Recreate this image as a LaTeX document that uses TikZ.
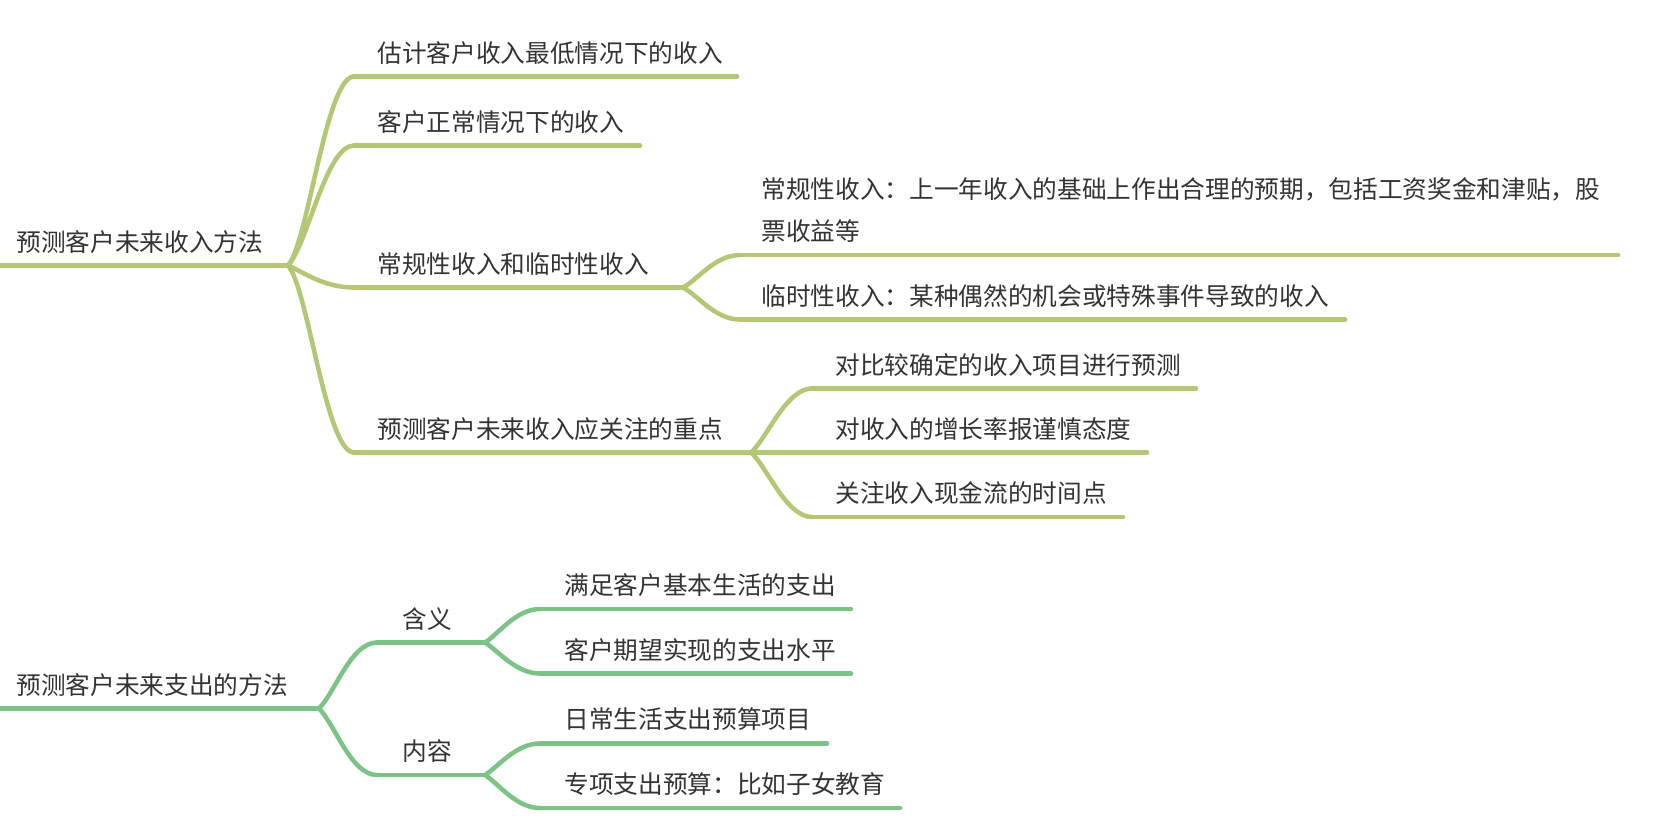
\documentclass[tikz,border=0pt]{standalone}
\usepackage{fontspec}
\setmainfont{Noto Sans CJK SC}
\definecolor{incomegreen}{RGB}{180,199,117}
\definecolor{spendgreen}{RGB}{124,195,135}
\definecolor{topictext}{RGB}{51,51,51}
\tikzset{every picture/.style={line width=0.75pt}}
\tikzset{
  topic/.style={anchor=west, inner sep=0pt, text=topictext, align=left,
    font=\fontsize{18.5pt}{30.8pt}\selectfont},
  income/.style={draw=incomegreen, line width=3.4pt, line cap=round},
  spend/.style={draw=spendgreen, line width=3.4pt, line cap=round},
}

\begin{document}
\begin{tikzpicture}[x=0.75pt,y=0.75pt,yscale=-1,xscale=1]
\useasboundingbox (0,0) rectangle (1658,839);

% Text Node
\node[topic] (inc) at (16,242) {预测客户未来收入方法};
\node[topic] (low) at (377,53) {估计客户收入最低情况下的收入};
\node[topic] (normal) at (377,122) {客户正常情况下的收入};
\node[topic] (kinds) at (377,264) {常规性收入和临时性收入};
\node[topic] (focus) at (377,429) {预测客户未来收入应关注的重点};
\node[topic] (regular) at (761,210) {常规性收入：上一年收入的基础上作出合理的预期，包括工资奖金和津贴，股\\票收益等};
\node[topic] (temp) at (761,296) {临时性收入：某种偶然的机会或特殊事件导致的收入};
\node[topic] (sure) at (835,365) {对比较确定的收入项目进行预测};
\node[topic] (growth) at (835,429) {对收入的增长率报谨慎态度};
\node[topic] (timing) at (835,493) {关注收入现金流的时间点};

\node[topic] (exp) at (16,685) {预测客户未来支出的方法};
\node[topic] (mean) at (402,619) {含义};
\node[topic] (cont) at (402,751) {内容};
\node[topic] (basic) at (564,585) {满足客户基本生活的支出};
\node[topic] (hope) at (564,650) {客户期望实现的支出水平};
\node[topic] (daily) at (564,719) {日常生活支出预算项目};
\node[topic] (special) at (564,784) {专项支出预算：比如子女教育};

% line ends under the topics
\coordinate (inc-l) at (0,265.5);     \coordinate (inc-r) at (288,265.5);
\coordinate (low-l) at (354,76.5);    \coordinate (low-r) at (737,76.5);
\coordinate (normal-l) at (354,145.5);\coordinate (normal-r) at (640,145.5);
\coordinate (kinds-l) at (354,287.5); \coordinate (kinds-r) at (683,287.5);
\coordinate (focus-l) at (354,452.5); \coordinate (focus-r) at (751,452.5);
\coordinate (regular-l) at (740,255); \coordinate (regular-r) at (1618,255);
\coordinate (temp-l) at (740,319.5);  \coordinate (temp-r) at (1345,319.5);
\coordinate (sure-l) at (812,388.5);  \coordinate (sure-r) at (1196,388.5);
\coordinate (growth-l) at (812,452.5);\coordinate (growth-r) at (1147,452.5);
\coordinate (timing-l) at (812,517);  \coordinate (timing-r) at (1123,517);

\coordinate (exp-l) at (0,708.5);     \coordinate (exp-r) at (319,708.5);
\coordinate (mean-l) at (377,642.5);  \coordinate (mean-r) at (485,642.5);
\coordinate (cont-l) at (377,775);    \coordinate (cont-r) at (485,775);
\coordinate (basic-l) at (540,609);   \coordinate (basic-r) at (851,609);
\coordinate (hope-l) at (540,673.5);  \coordinate (hope-r) at (851,673.5);
\coordinate (daily-l) at (540,743.5); \coordinate (daily-r) at (827,743.5);
\coordinate (special-l) at (540,808); \coordinate (special-r) at (900,808);

% underlines
\foreach \t in {inc,low,normal,kinds,focus,regular,temp,sure,growth,timing}
  \draw[income] (\t-l) -- (\t-r);
\foreach \t in {exp,mean,cont,basic,hope,daily,special}
  \draw[spend] (\t-l) -- (\t-r);

%Curve Lines
\draw[income] (inc-r) .. controls +(20,-22) and +(-28,0) .. (low-l);
\draw[income] (inc-r) .. controls +(20,-22) and +(-28,0) .. (normal-l);
\draw[income] (inc-r) .. controls +(16,7) and +(-30,0) .. (kinds-l);
\draw[income] (inc-r) .. controls +(20,22) and +(-28,0) .. (focus-l);
%Curve Lines
\draw[income] (kinds-r) .. controls +(15,-8) and +(-25,0) .. (regular-l);
\draw[income] (kinds-r) .. controls +(15,8) and +(-25,0) .. (temp-l);
\draw[income] (focus-r) .. controls +(16,-14) and +(-26,0) .. (sure-l);
\draw[income] (focus-r) -- (growth-l);
\draw[income] (focus-r) .. controls +(16,14) and +(-26,0) .. (timing-l);
%Curve Lines
\draw[spend] (exp-r) .. controls +(16,-16) and +(-26,0) .. (mean-l);
\draw[spend] (exp-r) .. controls +(16,16) and +(-26,0) .. (cont-l);
\draw[spend] (mean-r) .. controls +(14,-9) and +(-24,0) .. (basic-l);
\draw[spend] (mean-r) .. controls +(14,9) and +(-24,0) .. (hope-l);
\draw[spend] (cont-r) .. controls +(14,-9) and +(-24,0) .. (daily-l);
\draw[spend] (cont-r) .. controls +(14,9) and +(-24,0) .. (special-l);

\end{tikzpicture}
\end{document}
